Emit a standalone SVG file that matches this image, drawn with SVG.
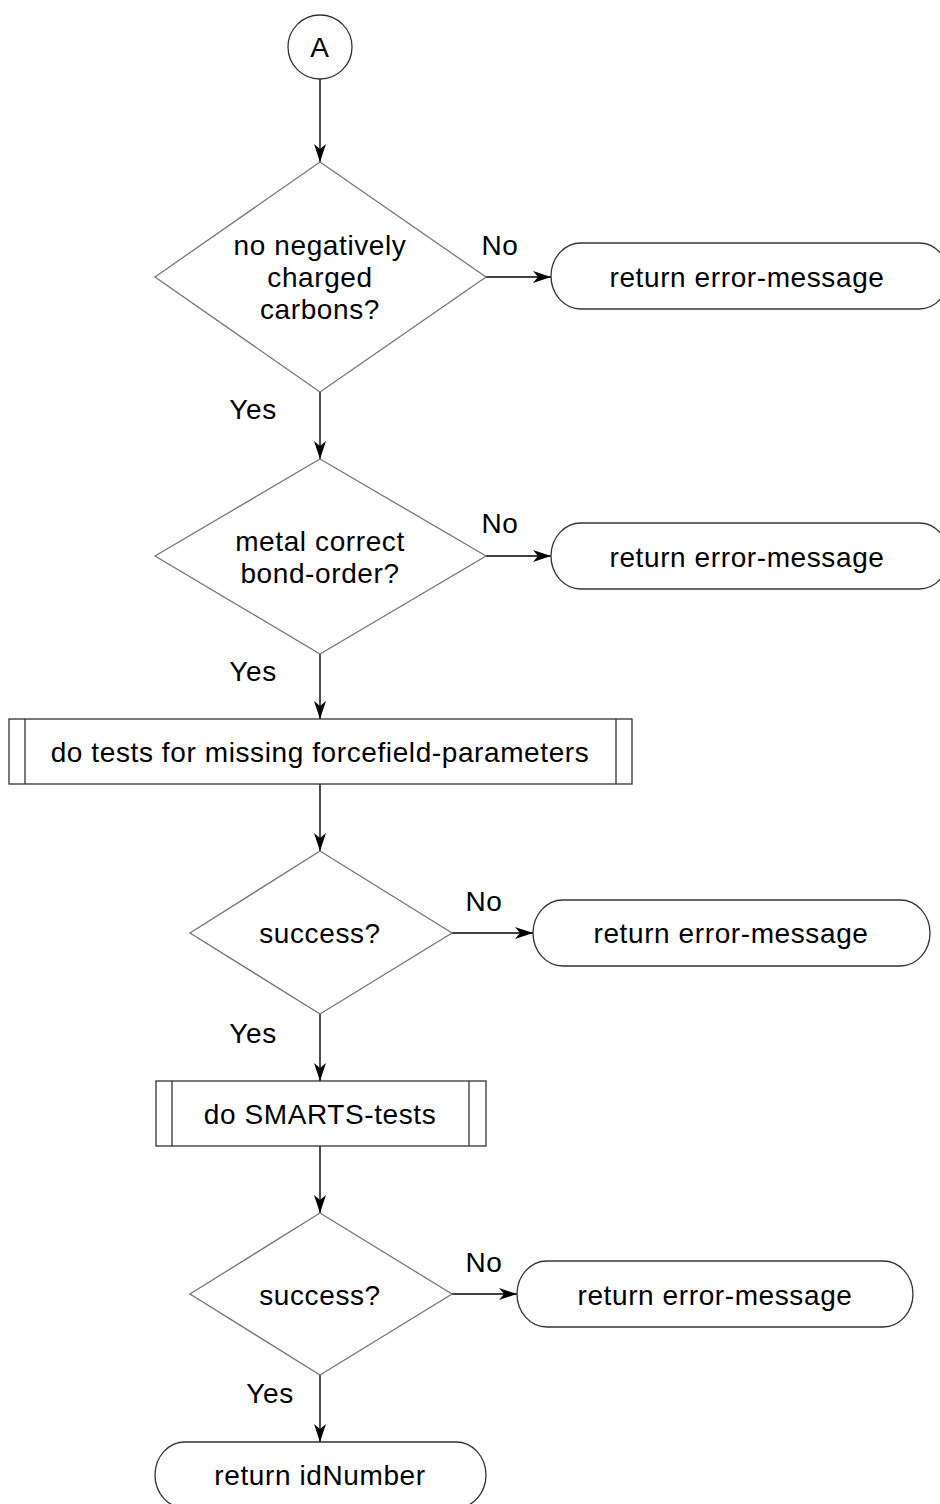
<svg xmlns="http://www.w3.org/2000/svg" width="940" height="1504" viewBox="0 0 940 1504">
<style>
text{font-family:"Liberation Sans",Arial,sans-serif;font-size:28px;letter-spacing:0.6px;fill:#000;text-anchor:middle}
.sh{fill:#fff;stroke:#333;stroke-width:1.3}
.dm{fill:#fff;stroke:#777;stroke-width:1.3}
.ln{fill:none;stroke:#333;stroke-width:1.3}
.cn{fill:none;stroke:#000;stroke-width:1.4;marker-end:url(#ah)}
</style>
<defs>
<marker id="ah" markerUnits="userSpaceOnUse" viewBox="-20 -7 22 14" refX="0" refY="0" markerWidth="22" markerHeight="14" orient="auto">
<path d="M0,0 L-18,-6 L-13,0 L-18,6 Z" fill="#000"/>
</marker>
</defs>
<rect width="940" height="1504" fill="#fff"/>
<g id="connectors">
<line class="cn" x1="320" y1="79" x2="320" y2="162"/>
<line class="cn" x1="320" y1="392" x2="320" y2="459"/>
<line class="cn" x1="320" y1="654" x2="320" y2="719"/>
<line class="cn" x1="320" y1="784" x2="320" y2="851"/>
<line class="cn" x1="320" y1="1014" x2="320" y2="1081"/>
<line class="cn" x1="320" y1="1146" x2="320" y2="1213"/>
<line class="cn" x1="320" y1="1375" x2="320" y2="1442"/>
<line class="cn" x1="486" y1="277" x2="551" y2="277"/>
<line class="cn" x1="486" y1="556" x2="551" y2="556"/>
<line class="cn" x1="452" y1="933" x2="533" y2="933"/>
<line class="cn" x1="452" y1="1294" x2="517" y2="1294"/>
<text x="500" y="255">No</text>
<text x="253" y="419">Yes</text>
<text x="500" y="533">No</text>
<text x="253" y="681">Yes</text>
<text x="484" y="911">No</text>
<text x="253" y="1043">Yes</text>
<text x="484" y="1272">No</text>
<text x="270" y="1403">Yes</text>
</g>
<g id="start">
<circle class="sh" cx="320" cy="47" r="32"/>
<text x="320" y="57">A</text>
</g>
<g id="d1">
<polygon class="dm" points="320,162 486,277 320,392 155,277"/>
<text x="320" y="255">no negatively</text>
<text x="320" y="287">charged</text>
<text x="320" y="319">carbons?</text>
</g>
<g id="e1">
<rect class="sh" x="551" y="243" width="398" height="66" rx="30" ry="33"/>
<text x="747" y="287">return error-message</text>
</g>
<g id="d2">
<polygon class="dm" points="320,459 486,556 320,654 155,556"/>
<text x="320" y="551">metal correct</text>
<text x="320" y="583">bond-order?</text>
</g>
<g id="e2">
<rect class="sh" x="551" y="523" width="398" height="66" rx="30" ry="33"/>
<text x="747" y="567">return error-message</text>
</g>
<g id="p1">
<rect class="sh" x="9" y="719" width="623" height="65"/>
<line class="ln" x1="25" y1="719" x2="25" y2="784"/>
<line class="ln" x1="616" y1="719" x2="616" y2="784"/>
<text x="320" y="762">do tests for missing forcefield-parameters</text>
</g>
<g id="d3">
<polygon class="dm" points="320,851 452,933 320,1014 190,933"/>
<text x="320" y="943">success?</text>
</g>
<g id="e3">
<rect class="sh" x="533" y="900" width="397" height="66" rx="30" ry="33"/>
<text x="731" y="943">return error-message</text>
</g>
<g id="p2">
<rect class="sh" x="156" y="1081" width="330" height="65"/>
<line class="ln" x1="172" y1="1081" x2="172" y2="1146"/>
<line class="ln" x1="469" y1="1081" x2="469" y2="1146"/>
<text x="320" y="1124">do SMARTS-tests</text>
</g>
<g id="d4">
<polygon class="dm" points="320,1213 452,1294 320,1375 190,1294"/>
<text x="320" y="1305">success?</text>
</g>
<g id="e4">
<rect class="sh" x="517" y="1261" width="396" height="66" rx="30" ry="33"/>
<text x="715" y="1305">return error-message</text>
</g>
<g id="end">
<rect class="sh" x="155" y="1442" width="331" height="66" rx="30" ry="33"/>
<text x="320" y="1485">return idNumber</text>
</g>
</svg>
